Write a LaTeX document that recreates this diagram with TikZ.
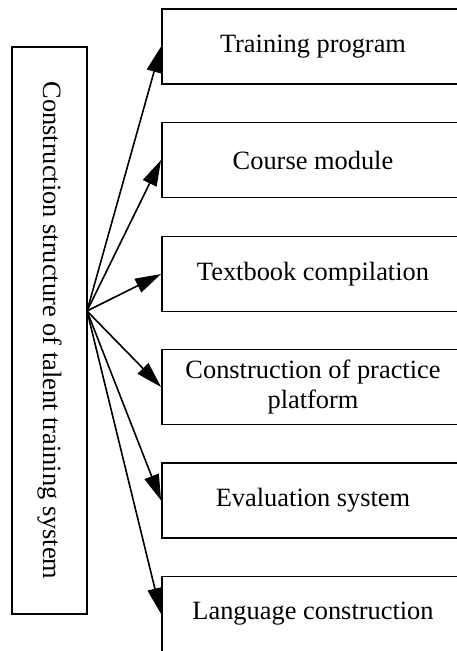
\documentclass[tikz,border=0pt]{standalone}
\usepackage{fontspec}
\setmainfont{Liberation Serif}
\usetikzlibrary{arrows.meta}
\begin{document}
\begin{tikzpicture}[x=0.5pt, y=-0.5pt,
  font=\fontsize{13.2}{15.4}\selectfont,
  box/.style={draw, line width=0.9pt, minimum width=151pt,
              minimum height=37.5pt, align=center, inner sep=0pt},
  arr/.style={-{Triangle[length=13pt, width=7.5pt]}, line width=0.8pt}
]
  \useasboundingbox (0,0) rectangle (456,651);
  \node[draw, line width=0.9pt, rotate=-90, minimum width=283.5pt,
        minimum height=37.5pt, inner sep=0pt] (sys) at (49.5,330.5)
        {Construction structure of talent training system};
  \coordinate (hub) at (87,311);
  \node[box] (prog) at (313, 46.5)  {Training program};
  \node[box] (mod)  at (313,160)    {Course module};
  \node[box] (book) at (313,274)    {Textbook compilation};
  \node[box] (plat) at (313,387)    {Construction of practice\\platform};
  \node[box] (eval) at (313,500.5)  {Evaluation system};
  \node[box] (lang) at (313,614)    {Language construction};
  \draw[arr] (hub) -- (prog.west);
  \draw[arr] (hub) -- (mod.west);
  \draw[arr] (hub) -- (book.west);
  \draw[arr] (hub) -- (plat.west);
  \draw[arr] (hub) -- (eval.west);
  \draw[arr] (hub) -- (lang.west);
\end{tikzpicture}
\end{document}
